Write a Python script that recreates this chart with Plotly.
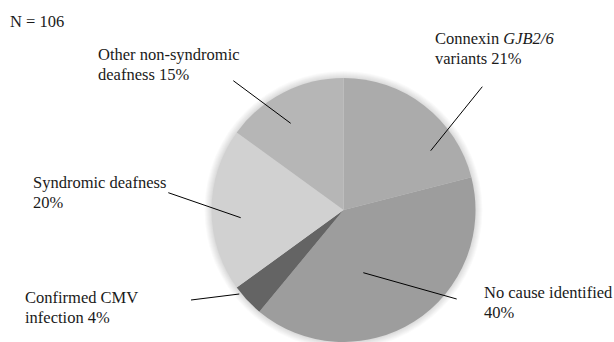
import plotly.graph_objects as go

# ---- data ----
categories = ["Connexin GJB2/6 variants", "No cause identified", "Confirmed CMV infection",
              "Syndromic deafness", "Other non-syndromic deafness"]
percent = [21, 40, 4, 20, 15]
label_lines = [
    ["Connexin <i>GJB2/6</i>", "variants 21%"],
    ["No cause identified", "40%"],
    ["Confirmed CMV", "infection 4%"],
    ["Syndromic deafness", "20%"],
    ["Other non-syndromic", "deafness 15%"],
]
subtitle = "N = 106"

# ---- styling / layout (pixels) ----
W, H = 614, 342
colors = ["#ababab", "#9d9d9d", "#646464", "#d1d1d1", "#b6b6b6"]
cx, cy, R = 343.5, 210.0, 132.0
FONT = "Times New Roman, Liberation Serif, DejaVu Serif, serif"
FS = 16.5
# label positions: left x, baseline of first line
label_pos = [(434, 44.5), (482.5, 298.5), (24, 303.5), (31.5, 188.5), (97, 60.5)]
line_gap = 19.2
# leader lines (outer point, inner point)
leaders = [((482.3, 86.7), (430.7, 150.7)),
           ((456.7, 299.0), (363.3, 272.7)),
           ((191.0, 300.0), (239.3, 294.0)),
           ((168.3, 192.7), (240.7, 217.7)),
           ((233.3, 80.7), (290.7, 123.3))]

def px(x):
    return x / W

def py(y):
    return 1 - y / H

fig = go.Figure()
fig.add_trace(go.Pie(
    labels=categories, values=percent, sort=False, direction="clockwise",
    rotation=0, textinfo="none", hoverinfo="label+percent",
    marker=dict(colors=colors, line=dict(width=0)),
    domain=dict(x=[px(cx - R), px(cx + R)], y=[py(cy + R), py(cy - R)]),
    showlegend=False,
))

shapes = []
# soft shadow around the pie
for i in range(1, 8):
    r = R + i
    shapes.append(dict(type="circle", xref="paper", yref="paper", layer="below",
                       x0=px(cx - r), x1=px(cx + r), y0=py(cy + r), y1=py(cy - r),
                       fillcolor="rgba(0,0,0,0.018)", line=dict(width=0)))
for (x0, y0), (x1, y1) in leaders:
    shapes.append(dict(type="line", xref="paper", yref="paper",
                       x0=px(x0), y0=py(y0), x1=px(x1), y1=py(y1),
                       line=dict(color="#000000", width=1)))

annotations = []
def add_text(txt, x, baseline):
    annotations.append(dict(text=txt, x=px(x), y=py(baseline - 5.6), xref="paper", yref="paper",
                            xanchor="left", yanchor="middle", showarrow=False,
                            font=dict(family=FONT, size=FS, color="#1a1a1a"), borderpad=0))

for lines, (lx, lb) in zip(label_lines, label_pos):
    for k, t in enumerate(lines):
        add_text(t, lx, lb + k * line_gap)
add_text(subtitle, 9, 26.7)

fig.update_layout(width=W, height=H, margin=dict(l=0, r=0, t=0, b=0),
                  paper_bgcolor="white", plot_bgcolor="white",
                  font=dict(family=FONT),
                  shapes=shapes, annotations=annotations)
fig.write_html("out.html")
